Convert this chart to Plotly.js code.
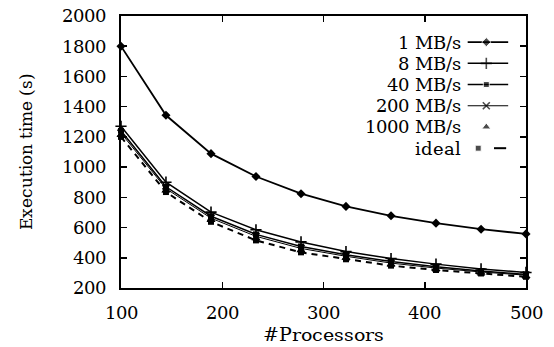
<!DOCTYPE html>
<html>
<head>
<meta charset="utf-8">
<script src="https://cdn.plot.ly/plotly-3.0.1.min.js"></script>
<style>
@font-face{font-family:"RefSerif";src:local("DejaVu Serif"),local("DejaVuSerif");}
html,body{margin:0;padding:0;background:#fff}#chart{width:554px;height:347px}
</style>
</head>
<body>
<div id="chart"></div>
<script>
// ---- data ----
var processors = [100, 144.4, 188.9, 233.3, 277.8, 322.2, 366.7, 411.1, 455.6, 500];
var seriesNames = ["1 MB/s", "8 MB/s", "40 MB/s", "200 MB/s", "1000 MB/s", "ideal"];
var mb1    = [1800, 1343, 1089, 938, 824, 740, 678, 629, 589, 558];
var mb8    = [1270, 900, 702, 585, 505, 441, 395, 358, 326, 303];
var mb40   = [1240, 870, 675, 555, 475, 420, 375, 340, 312, 290];
var mb200  = [1225, 858, 662, 542, 462, 410, 365, 332, 306, 285];
var mb1000 = [1212, 846, 650, 530, 450, 400, 357, 326, 302, 280];
var ideal  = [1200, 835, 638, 515, 436, 390, 348, 319, 296, 274];
var xTicks = [100, 200, 300, 400, 500];
var yTicks = [200, 400, 600, 800, 1000, 1200, 1400, 1600, 1800, 2000];

var FONT = 'RefSerif, "DejaVu Serif", serif';
var seriesValues = [mb1, mb8, mb40, mb200, mb1000, ideal];
var styles = [
  {mode: "lines+markers", line: {width: 1.8, dash: "solid"}, marker: {symbol: "diamond", size: 7}},
  {mode: "lines+markers", line: {width: 1.5, dash: "solid"}, marker: {symbol: "cross-thin-open", size: 8, line: {width: 1.6, color: "black"}}},
  {mode: "lines+markers", line: {width: 1.5, dash: "solid"}, marker: {symbol: "square", size: 6}},
  {mode: "lines+markers", line: {width: 1.0, dash: "solid"}, marker: {symbol: "x-thin-open", size: 7, line: {width: 1.6, color: "black"}}},
  {mode: "markers",       line: {width: 1.0, dash: "solid"}, marker: {symbol: "triangle-up", size: 8}},
  {mode: "lines+markers", line: {width: 2.0, dash: "6px,5px"}, marker: {symbol: "square", size: 6}}
];

var traces = [];
seriesValues.forEach(function (vals, i) {
  var s = styles[i];
  traces.push({
    type: "scatter", x: processors, y: vals, name: seriesNames[i], mode: s.mode,
    line: {color: "black", width: s.line.width, dash: s.line.dash},
    marker: Object.assign({color: "black"}, s.marker),
    cliponaxis: false, showlegend: false
  });
});

// ---- custom legend (text on the left, sample on the right) ----
var legTextX = 0.842, legX0 = 0.856, legXM = 0.902, legX1 = 0.956;
var legTop = 0.904, legStep = 0.078;
var annotations = [];
seriesNames.forEach(function (nm, i) {
  var yy = legTop - i * legStep;
  annotations.push({xref: "paper", yref: "paper", x: legTextX, y: yy, xanchor: "right", yanchor: "middle",
    text: nm, showarrow: false, borderpad: 0, font: {family: FONT, size: 18, color: "black"}});
  var s = styles[i];
  var xs, ys, sizes;
  if (s.mode === "markers") { xs = [legXM]; ys = [yy]; sizes = [s.marker.size]; }
  else if (i === 5) { xs = [legXM - 0.02, null, legX1 - 0.035, legX1 - 0.005]; ys = [yy, null, yy, yy]; sizes = [6, 0, 0, 0]; }
  else { xs = [legX0, legXM, legX1]; ys = [yy, yy, yy]; sizes = [0, s.marker.size, 0]; }
  var m = Object.assign({color: "black"}, s.marker); m.size = sizes;
  traces.push({type: "scatter", x: xs, y: ys, xaxis: "x2", yaxis: "y2", mode: i === 4 ? "markers" : "lines+markers",
    line: {color: "black", width: i === 5 ? 2 : s.line.width, dash: "solid"},
    marker: m, showlegend: false, hoverinfo: "skip", cliponaxis: false, connectgaps: false});
});

var axisCommon = {
  showline: true, linecolor: "black", linewidth: 2, mirror: "ticks",
  ticks: "inside", ticklen: 6, tickwidth: 1.5, tickcolor: "black",
  showgrid: false, zeroline: false,
  tickfont: {family: FONT, size: 18, color: "black"}
};

var layout = {
  width: 554, height: 347,
  margin: {l: 121, r: 28, t: 16, b: 59},
  paper_bgcolor: "white", plot_bgcolor: "white",
  showlegend: false,
  font: {family: FONT, color: "black"},
  xaxis: Object.assign({}, axisCommon, {
    range: [100, 500], tickvals: xTicks, ticktext: xTicks.map(String), ticklabelstandoff: 7,
    title: {text: "#Processors", font: {family: FONT, size: 19, color: "black"}, standoff: 0}
  }),
  yaxis: Object.assign({}, axisCommon, {
    range: [200, 2000], tickvals: yTicks, ticktext: yTicks.map(String), ticklabelstandoff: 9,
    title: {text: "Execution time (s)", font: {family: FONT, size: 17, color: "black"}, standoff: 25}
  }),
  xaxis2: {overlaying: "x", range: [0, 1], visible: false, fixedrange: true},
  yaxis2: {overlaying: "y", range: [0, 1], visible: false, fixedrange: true},
  annotations: annotations
};

var config = {staticPlot: true, displayModeBar: false};
Plotly.newPlot("chart", traces, layout, config);
if (document.fonts && document.fonts.load) {
  document.fonts.load("18px RefSerif").then(function () {
    Plotly.newPlot("chart", traces, layout, config);
  });
}
</script>
</body>
</html>
